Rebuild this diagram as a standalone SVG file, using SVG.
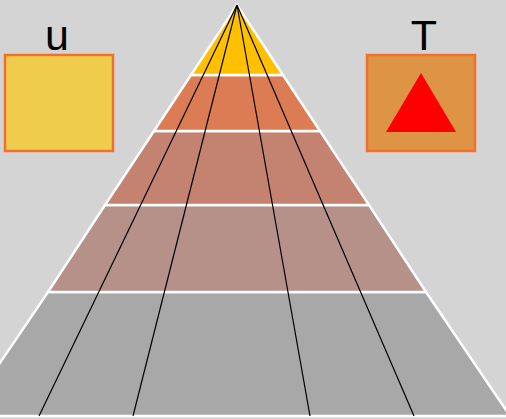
<svg xmlns="http://www.w3.org/2000/svg" width="506" height="419" viewBox="0 0 506 419">
<style>
.band{stroke:#ffffff;stroke-width:2.5;stroke-linejoin:miter}
.ray{stroke:#000000;stroke-width:1.2;fill:none}
.box{stroke:#f26f2c;stroke-width:2.5}
.lbl{font-family:"Liberation Sans",Arial,sans-serif;font-size:43px;fill:#000;text-anchor:middle}
</style>
<rect x="0" y="0" width="506" height="419" fill="#d4d4d4"/>
<g id="pyramid">
<polygon class="band" fill="#a8a8a8" points="48,292 426,292 510,416 -36,416"/>
<polygon class="band" fill="#b5918a" points="105,205 369,205 426,292 48,292"/>
<polygon class="band" fill="#c48270" points="154,131 320,131 369,205 105,205"/>
<polygon class="band" fill="#dc7c54" points="191,75 283,75 320,131 154,131"/>
<polygon class="band" fill="#ffc000" points="237,5 283,75 191,75"/>
</g>
<g id="connectors">
<line class="ray" x1="237" y1="5" x2="39" y2="416"/>
<line class="ray" x1="237" y1="5" x2="133" y2="416"/>
<line class="ray" x1="237" y1="5" x2="310" y2="416"/>
<line class="ray" x1="237" y1="5" x2="414" y2="416"/>
</g>
<g id="u">
<text class="lbl" x="57" y="50">u</text>
<rect class="box" x="5" y="55" width="108" height="96" fill="#f0cc4c"/>
</g>
<g id="T">
<text class="lbl" x="424" y="50">T</text>
<rect class="box" x="367" y="55" width="108" height="96" fill="#dd9444"/>
<polygon points="421,73 386,132 456,132" fill="#ff0000"/>
</g>
</svg>
